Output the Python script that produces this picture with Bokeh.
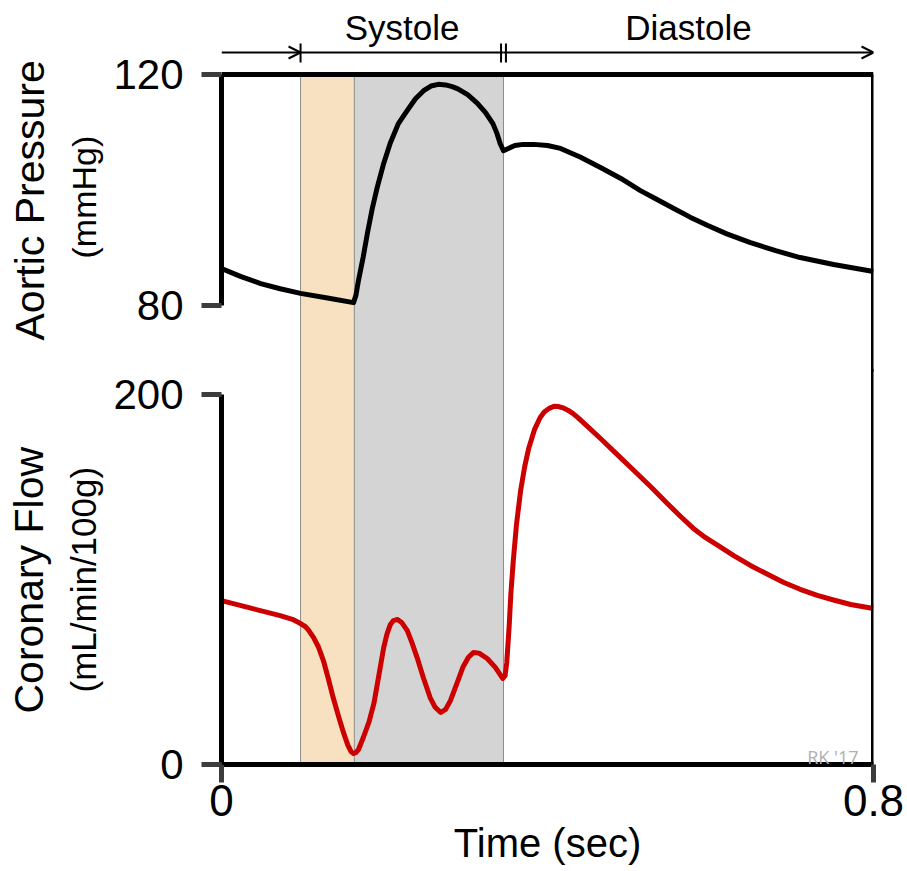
import math
from bokeh.plotting import figure
from bokeh.layouts import column
from bokeh.models import Range1d, FixedTicker, BoxAnnotation, Span, Arrow, OpenHead, Label, Title
from bokeh.embed import file_html
from bokeh.resources import INLINE
from bokeh.core.properties import value

# ---------------- data ----------------
time_pressure = [0.000, 0.024, 0.048, 0.072, 0.097, 0.130, 0.162, 0.165, 0.168, 0.174,
                 0.179, 0.185, 0.191, 0.199, 0.207, 0.217, 0.228, 0.238, 0.248, 0.257,
                 0.266, 0.275, 0.283, 0.290, 0.302, 0.314, 0.324, 0.333, 0.338, 0.342,
                 0.346, 0.352, 0.360, 0.370, 0.383, 0.400, 0.416, 0.440, 0.465, 0.490,
                 0.514, 0.535, 0.555, 0.575, 0.596, 0.620, 0.649, 0.680, 0.710, 0.751,
                 0.800]
aortic_pressure = [86.4, 85.0, 83.8, 82.9, 82.1, 81.3, 80.5, 81.8, 84.3, 88.5,
                   92.5, 96.8, 100.4, 104.6, 108.1, 111.5, 113.8, 115.8, 117.2, 118.0,
                   118.3, 118.2, 117.9, 117.5, 116.5, 115.0, 113.4, 111.5, 109.8, 108.0,
                   106.8, 107.2, 107.7, 107.9, 107.9, 107.7, 107.2, 105.7, 103.9, 102.0,
                   99.9, 98.3, 96.8, 95.3, 93.9, 92.4, 90.9, 89.5, 88.3, 87.1,
                   85.9]

time_flow = [0.000, 0.036, 0.072, 0.087, 0.097, 0.103, 0.107, 0.113, 0.119, 0.125,
             0.131, 0.137, 0.144, 0.150, 0.155, 0.159, 0.162, 0.165, 0.168, 0.174,
             0.181, 0.187, 0.193, 0.199, 0.203, 0.207, 0.211, 0.216, 0.221, 0.228,
             0.234, 0.240, 0.248, 0.256, 0.262, 0.269, 0.275, 0.281, 0.289, 0.296,
             0.303, 0.309, 0.316, 0.326, 0.336, 0.345, 0.348, 0.350, 0.353, 0.355,
             0.358, 0.362, 0.367, 0.372, 0.377, 0.384, 0.391, 0.396, 0.402, 0.408,
             0.413, 0.419, 0.425, 0.431, 0.437, 0.451, 0.465, 0.485, 0.506, 0.527,
             0.547, 0.563, 0.579, 0.594, 0.609, 0.629, 0.649, 0.670, 0.690, 0.710,
             0.731, 0.752, 0.772, 0.800]
coronary_flow = [88.6, 84.5, 80.5, 78.5, 76.2, 74.5, 72.5, 68.6, 63.5, 56.2,
                 46.5, 36.2, 25.5, 16.8, 10.5, 7.0, 5.9, 6.5, 8.0, 14.6,
                 23.0, 33.0, 48.0, 63.2, 70.5, 75.5, 77.8, 78.4, 76.8, 72.4,
                 65.5, 57.8, 46.5, 36.2, 31.0, 28.1, 29.8, 34.6, 44.0, 52.4,
                 58.0, 60.5, 60.2, 57.3, 52.5, 46.5, 48.0, 55.0, 75.0, 92.0,
                 110.0, 130.0, 148.0, 161.0, 171.0, 181.0, 187.6, 190.5, 192.5, 193.6,
                 193.5, 192.8, 191.5, 189.8, 187.6, 182.0, 176.2, 167.8, 158.9, 150.0,
                 141.1, 134.2, 127.6, 122.6, 118.4, 112.8, 107.6, 102.8, 98.4, 94.7,
                 91.4, 88.8, 86.5, 84.3]

# phase boundaries (sec): isovolumic contraction start, ejection start, diastole start
phase_bounds = [0.097, 0.163, 0.346]
phase_names = ["Systole", "Diastole"]
x_ticks = [0, 0.8]
x_tick_labels = ["0", "0.8"]
pressure_ticks = [80, 120]
flow_ticks = [0, 200]

# ---------------- layout helpers (pixel geometry) ----------------
W = 907
LEFT = 221
RIGHT = 873
TOP_H = 372
OVER = 4                      # bottom figure overlaps the top one to hide the seam
BT = TOP_H - OVER             # page y of the bottom canvas top
BOT_H = 499
BOT_MB = BOT_H - (764 - BT)
PX_P = 5.775   # px per mmHg
PX_F = 1.85    # px per flow unit
PX_T = 815.0   # px per second


def t_at(px):
    return (px - LEFT) / PX_T


def p_at(py):
    return pressure_ticks[1] - (py - 74) / PX_P


def f_at(py):
    return (764 - py) / PX_F


p_lo, p_hi = p_at(TOP_H), p_at(0)
f_hi = f_at(BT)
t0, t1 = x_ticks
FONT = "Liberation Sans"
ORANGE = "#f8e1c0"
GRAY = "#d4d4d4"
EDGE = "#8c8c8c"

x_range = Range1d(t0, t1)


def style_y(ax, ticks):
    ax.ticker = FixedTicker(ticks=ticks)
    ax.bounds = (ticks[0], ticks[-1])
    ax.axis_line_width = 5
    ax.axis_line_color = "black"
    ax.major_tick_line_width = 5
    ax.major_tick_line_color = "#3c3c3c"
    ax.major_tick_out = 20
    ax.major_tick_in = 0
    ax.minor_tick_line_color = None
    ax.major_label_standoff = 18
    ax.major_label_text_font = FONT
    ax.major_label_text_font_size = "42px"
    ax.major_label_text_color = "black"


def side_title(text, size, standoff, offset):
    # align="left" on a left panel: text starts at (frame bottom - offset) and runs upward
    return Title(text=text, align="left", text_font=FONT, text_font_size=size,
                 text_font_style="normal", text_color="black", standoff=standoff, offset=offset)


# ---------------- top: aortic pressure ----------------
top = figure(width=W, height=TOP_H, x_range=x_range, y_range=Range1d(p_lo, p_hi),
             output_backend="svg", toolbar_location=None, x_axis_location=None,
             min_border_left=LEFT, min_border_right=W - RIGHT, min_border_top=0,
             min_border_bottom=0, title=None)
top.xgrid.grid_line_color = None
top.ygrid.grid_line_color = None
top.outline_line_color = None
style_y(top.yaxis[0], pressure_ticks)
top.add_layout(side_title("(mmHg)", "34px", 15, TOP_H - 258), "left")
top.add_layout(side_title("Aortic Pressure", "41px", 6, TOP_H - 340), "left")

top.add_layout(BoxAnnotation(left=phase_bounds[0], right=phase_bounds[1], top=pressure_ticks[1],
                             fill_color=ORANGE, fill_alpha=1, line_color=None, level="underlay"))
top.add_layout(BoxAnnotation(left=phase_bounds[1], right=phase_bounds[2], top=pressure_ticks[1],
                             fill_color=GRAY, fill_alpha=1, line_color=None, level="underlay"))
top.segment(x0=phase_bounds, y0=[pressure_ticks[1]] * 3, x1=phase_bounds, y1=[p_lo] * 3,
            line_color=EDGE, line_width=1)

top.line(time_pressure, aortic_pressure, line_color="black", line_width=5, line_join="round")

top.add_layout(Span(location=pressure_ticks[1], dimension="width", line_color="black", line_width=5))
top.add_layout(Arrow(end=None, x_start=t1, y_start=pressure_ticks[1], x_end=t1, y_end=p_lo,
                     line_color="black", line_width=5))

# header: phase arrows and names
ay = p_at(52)
top.add_layout(Arrow(end=OpenHead(size=12, line_width=2), x_start=t0, y_start=ay,
                     x_end=phase_bounds[0], y_end=ay, line_width=2))
top.segment(x0=[phase_bounds[0]], y0=[ay], x1=[phase_bounds[2]], y1=[ay], line_color="black", line_width=2)
top.add_layout(Arrow(end=OpenHead(size=12, line_width=2), x_start=phase_bounds[2], y_start=ay,
                     x_end=t1, y_end=ay, line_width=2))
tick_x = [phase_bounds[0], phase_bounds[2] - 0.003, phase_bounds[2] + 0.003]
top.segment(x0=tick_x, y0=[p_at(43)] * 3, x1=tick_x, y1=[p_at(62)] * 3, line_color="black", line_width=2)
phase_mid = [(phase_bounds[0] + phase_bounds[2]) / 2, (phase_bounds[2] + t1) / 2]
top.text(x=phase_mid, y=[p_at(27)] * 2, text=phase_names, text_font=value(FONT),
         text_font_size="35px", text_align="center", text_baseline="alphabetic", text_color="black")

# ---------------- bottom: coronary flow ----------------
bot = figure(width=W, height=BOT_H, x_range=x_range, y_range=Range1d(0, f_hi),
             output_backend="svg", toolbar_location=None,
             min_border_left=LEFT, min_border_right=W - RIGHT, min_border_top=0,
             min_border_bottom=BOT_MB, title=None,
             styles={"margin-top": f"-{OVER}px"})
bot.border_fill_color = None
bot.background_fill_color = None
bot.xgrid.grid_line_color = None
bot.ygrid.grid_line_color = None
bot.outline_line_color = None
style_y(bot.yaxis[0], flow_ticks)
bot.add_layout(side_title("(mL/min/100g)", "35px", 15, 764 - 692), "left")
bot.add_layout(side_title("Coronary Flow", "41px", 6, 764 - 713), "left")

xa = bot.xaxis[0]
xa.ticker = FixedTicker(ticks=x_ticks)
xa.major_label_overrides = {k: v for k, v in zip(x_ticks, x_tick_labels)}
xa.axis_line_width = 5
xa.axis_line_color = "black"
xa.major_tick_line_width = 5
xa.major_tick_line_color = "#3c3c3c"
xa.major_tick_out = 18
xa.major_tick_in = 0
xa.minor_tick_line_color = None
xa.major_label_standoff = 2
xa.major_label_text_font = FONT
xa.major_label_text_font_size = "44px"
xa.major_label_text_color = "black"
xa.axis_label = "Time (sec)"
xa.axis_label_text_font = FONT
xa.axis_label_text_font_size = "40px"
xa.axis_label_text_font_style = "normal"
xa.axis_label_text_color = "black"
xa.axis_label_standoff = 2

bot.add_layout(BoxAnnotation(left=phase_bounds[0], right=phase_bounds[1],
                             fill_color=ORANGE, fill_alpha=1, line_color=None, level="underlay"))
bot.add_layout(BoxAnnotation(left=phase_bounds[1], right=phase_bounds[2],
                             fill_color=GRAY, fill_alpha=1, line_color=None, level="underlay"))
bot.segment(x0=phase_bounds, y0=[0] * 3, x1=phase_bounds, y1=[f_hi] * 3,
            line_color=EDGE, line_width=1)

bot.line(time_flow, coronary_flow, line_color="#cc0000", line_width=5, line_join="round")

bot.add_layout(Span(location=t1, dimension="height", line_color="black", line_width=5))

bot.add_layout(Label(x=t_at(858), y=f_at(756), text="RK '17", text_align="right",
                     text_baseline="alphabetic", text_font="Open Sans", text_font_size="18px",
                     text_font_style="normal", text_color="#b0b0b0"))

layout = column(top, bot, spacing=0)
open("out.html", "w").write(file_html(layout, INLINE))
